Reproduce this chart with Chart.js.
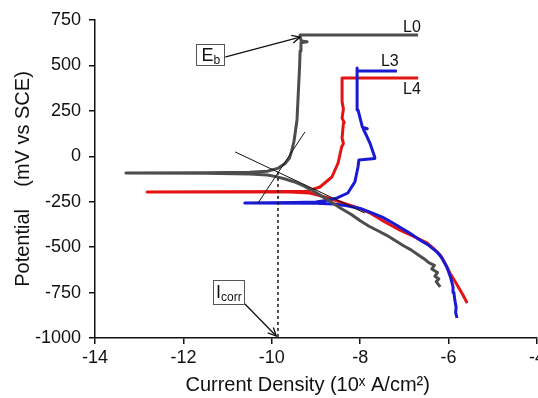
<!DOCTYPE html>
<html><head><meta charset="utf-8">
<script src="https://cdn.jsdelivr.net/npm/chart.js@4.4.1/dist/chart.umd.min.js"></script>
<style>html,body{margin:0;padding:0;background:#fff}#wrap{width:538px;height:398px}</style>
</head><body><div id="wrap"><canvas id="c" width="538" height="398"></canvas></div>
<script>
// ---- data (log current density, potential mV vs SCE) ----
const xTicks = [-14, -12, -10, -8, -6, -4];
const yTicks = [-1000, -750, -500, -250, 0, 250, 500, 750];

const L0_logI = [-6.19,-6.28,-6.22,-6.31,-6.25,-6.38,-6.32,-6.45,-6.55,-6.7,-6.85,-7.0,-7.2,-7.4,-7.6,-7.8,-8.0,-8.2,-8.45,-8.7,-8.9,-9.1,-9.3,-9.5,-9.7,-9.9,-10.1,-10.5,-11.5,-13.3,-11.5,-10.5,-10.1,-9.85,-9.7,-9.6,-9.55,-9.5,-9.47,-9.43,-9.41,-9.39,-9.37,-9.36,-9.34,-9.2,-9.33,-9.36,-9.36,-6.69];
const L0_E    = [-719,-690,-675,-660,-640,-620,-600,-585,-565,-540,-515,-495,-465,-435,-410,-385,-355,-320,-285,-245,-215,-185,-160,-140,-125,-112,-103,-97,-94,-92,-90,-88,-82,-65,-40,-10,30,80,130,200,300,400,500,580,625,630,635,656,667,667];

const L3_logI = [-5.81,-5.84,-5.83,-5.86,-5.88,-5.90,-5.95,-6.04,-6.15,-6.26,-6.45,-6.65,-6.9,-7.1,-7.26,-7.5,-7.75,-8.0,-8.3,-8.6,-9.0,-10.61,-9.5,-9.0,-8.7,-8.52,-8.28,-8.12,-8.05,-8.03,-7.67,-7.67,-7.78,-7.86,-7.93,-7.84,-7.95,-8.05,-8.07,-8.07,-8.07,-7.17];
const L3_E    = [-890,-860,-830,-790,-750,-719,-670,-609,-560,-527,-490,-461,-420,-390,-367,-335,-310,-287,-272,-262,-258,-257,-255,-252,-240,-229,-202,-141,-59,-20,-12,-5,73,115,150,152,160,255,380,486,469,469];

const L4_logI = [-5.58,-5.66,-5.74,-5.85,-5.97,-6.08,-6.19,-6.35,-6.49,-6.8,-7.1,-7.45,-7.78,-8.1,-8.39,-8.7,-9.14,-9.6,-12.82,-9.6,-9.2,-8.91,-8.64,-8.5,-8.42,-8.38,-8.41,-8.38,-8.36,-8.41,-8.38,-8.41,-8.41,-6.69];
const L4_E    = [-807,-770,-736,-690,-642,-590,-543,-505,-477,-440,-406,-360,-312,-280,-257,-230,-202,-197,-196,-194,-192,-169,-114,-37,51,70,100,183,185,210,260,300,431,431];

const tafelC_logI = [-10.83, -7.9];
const tafelC_E    = [24, -312];
const tafelA_logI = [-10.31, -9.25];
const tafelA_E    = [-257, 134];
const icorr_logI  = [-9.86, -9.86];
const icorr_E     = [-86, -1000];

const seriesNames = ['L0', 'L3', 'L4'];

function pts(xs, ys){ return xs.map((x,i)=>({x:x, y:ys[i]})); }

// annotation anchors (data units)
const notes = {
  labels: [
    {text:'L0', x:-6.83, y:706},
    {text:'L3', x:-7.33, y:519},
    {text:'L4', x:-6.83, y:365}
  ],
  eb:    {box:{x:-11.38, y:557}, tip:{x:-9.36, y:656}},
  icorr: {box:{x:-10.97, y:-747}, tip:{x:-9.90, y:-989}}
};

const FONT = "'Liberation Sans', Arial, sans-serif";

function arrow(ctx, x1, y1, x2, y2){
  ctx.beginPath(); ctx.moveTo(x1,y1); ctx.lineTo(x2,y2); ctx.stroke();
  const a = Math.atan2(y2-y1, x2-x1), L = 9, w = 0.45;
  ctx.beginPath();
  ctx.moveTo(x2 - L*Math.cos(a-w), y2 - L*Math.sin(a-w));
  ctx.lineTo(x2, y2);
  ctx.lineTo(x2 - L*Math.cos(a+w), y2 - L*Math.sin(a+w));
  ctx.stroke();
}

function subBox(ctx, cx, cy, main, sub, w, h){
  ctx.save();
  ctx.fillStyle = '#fff';
  ctx.fillRect(cx-w/2, cy-h/2, w, h);
  ctx.strokeStyle = '#555'; ctx.lineWidth = 1;
  ctx.strokeRect(Math.round(cx-w/2)+0.5, Math.round(cy-h/2)+0.5, w-1, h-1);
  ctx.fillStyle = '#111';
  ctx.textAlign = 'left';
  ctx.textBaseline = 'alphabetic';
  ctx.font = '18px ' + FONT;
  const mw = ctx.measureText(main).width;
  ctx.font = '12px ' + FONT;
  const sw = ctx.measureText(sub).width;
  const x0 = cx - (mw+sw)/2;
  const base = cy + 6;
  ctx.font = '18px ' + FONT;
  ctx.fillText(main, x0, base);
  ctx.font = '12px ' + FONT;
  ctx.fillText(sub, x0+mw, base+3);
  ctx.restore();
}

const annot = {
  id: 'annot',
  afterDatasetsDraw(chart){
    const {ctx, scales:{x, y}} = chart;
    const px = v => x.getPixelForValue(v), py = v => y.getPixelForValue(v);
    ctx.save();
    ctx.fillStyle = '#111';
    ctx.font = '16px ' + FONT;
    ctx.textAlign = 'center'; ctx.textBaseline = 'middle';
    notes.labels.forEach(l => ctx.fillText(l.text, px(l.x), py(l.y)));
    ctx.strokeStyle = '#111'; ctx.lineWidth = 1.3;
    // Eb
    const eb = notes.eb, ebx = px(eb.box.x), eby = py(eb.box.y);
    arrow(ctx, ebx+14, eby+2, px(eb.tip.x), py(eb.tip.y));
    subBox(ctx, ebx, eby, 'E', 'b', 29, 22);
    // Icorr
    const ic = notes.icorr, icx = px(ic.box.x), icy = py(ic.box.y);
    arrow(ctx, icx+16, icy+12, px(ic.tip.x), py(ic.tip.y));
    subBox(ctx, icx, icy, 'I', 'corr', 32, 25);
    ctx.restore();
  }
};

const lineDs = (label, data, color, width, dash) => ({
  label, data, showLine: true, borderColor: color, backgroundColor: color,
  borderWidth: width, pointRadius: 0, tension: 0, borderDash: dash || [],
  borderJoinStyle: 'round', borderCapStyle: 'butt'
});

new Chart(document.getElementById('c'), {
  type: 'scatter',
  data: {
    datasets: [
      lineDs('tafel-c', pts(tafelC_logI, tafelC_E), '#111', 1),
      lineDs('tafel-a', pts(tafelA_logI, tafelA_E), '#111', 1),
      lineDs('icorr', pts(icorr_logI, icorr_E), '#111', 1.5, [3,3]),
      lineDs(seriesNames[0], pts(L0_logI, L0_E), '#4d4d4d', 3),
      lineDs(seriesNames[1], pts(L3_logI, L3_E), '#1a1ad2', 3),
      lineDs(seriesNames[2], pts(L4_logI, L4_E), '#e41414', 3)
    ]
  },
  options: {
    responsive: false, animation: false, devicePixelRatio: 1,
    layout: {padding: {top: 20, right: 1, left: 0, bottom: 0}},
    plugins: {legend: {display: false}, tooltip: {enabled: false}},
    scales: {
      x: {
        type: 'linear', min: -14, max: -4,
        afterBuildTicks: s => { s.ticks = xTicks.map(v => ({value: v})); },
        afterFit: s => { s.height = 60; s.paddingRight = 0; s.paddingLeft = 0; },
        border: {color: '#111', width: 1.5},
        grid: {drawOnChartArea: false, drawTicks: true, tickLength: 6, color: '#111', lineWidth: 1.5},
        ticks: {color: '#111', font: {family: FONT, size: 18}, padding: 3, maxRotation: 0, autoSkip: false,
                callback: v => String(v)},
        title: {display: true, text: 'Current Density (10\u02E3 A/cm\u00B2)   ', color: '#111',
                font: {family: FONT, size: 20}, padding: {top: 0, bottom: 1}}
      },
      y: {
        type: 'linear', min: -1000, max: 750,
        afterBuildTicks: s => { s.ticks = yTicks.map(v => ({value: v})); },
        afterFit: s => { s.width = 95; },
        border: {color: '#111', width: 1.5},
        grid: {drawOnChartArea: false, drawTicks: true, tickLength: 6, color: '#111', lineWidth: 1.5},
        ticks: {color: '#111', font: {family: FONT, size: 18}, padding: 8, autoSkip: false,
                callback: v => String(v)},
        title: {display: true, text: 'Potential    (mV vs SCE)', color: '#111',
                font: {family: FONT, size: 20}, padding: {top: 11, bottom: 0}}
      }
    }
  },
  plugins: [annot]
});
</script>
</body></html>
